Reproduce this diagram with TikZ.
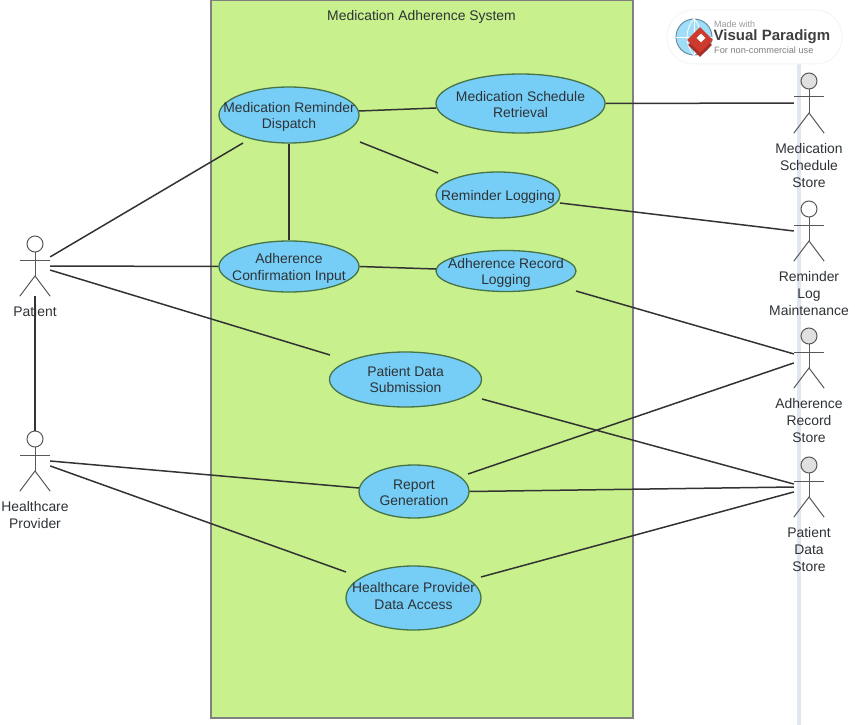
\documentclass[tikz,border=0pt]{standalone}
\usepackage{fontspec}
\setmainfont{Liberation Sans}
\usetikzlibrary{positioning, shapes.geometric}
\definecolor{sysGreen}{HTML}{C8F08C}
\definecolor{ucBlue}{HTML}{76CEF7}
\definecolor{guideBlue}{HTML}{E2E6F0}
\definecolor{logoRed}{HTML}{CF3A2E}
\definecolor{inkDark}{HTML}{2E3236}
\tikzset{
    sysBox/.style={
        draw=black!50,
        fill=sysGreen,
        line width=1.5pt
    },
    ucNode/.style={
        ellipse,
        draw=black!60!green!45!gray,
        fill=ucBlue,
        line width=1.3pt,
        inner sep=0pt
    },
    ucText/.style={
        align=center,
        text=inkDark,
        font=\fontsize{13.9}{16.3}\selectfont,
        inner sep=0pt
    },
    actorLine/.style={
        draw=black!65,
        line width=1pt
    },
    actorBox/.style={
        minimum width=30pt,
        minimum height=60pt,
        inner sep=0pt
    },
    actorText/.style={
        align=center,
        text=inkDark,
        font=\fontsize{13.9}{16.6}\selectfont,
        inner sep=0pt
    },
    assocLine/.style={
        draw=black!80,
        line width=1.5pt
    }
}

\begin{document}
\begin{tikzpicture}[x=1pt, y=-1pt]
        \useasboundingbox (0, 0) rectangle (855, 725);

        % Macro for Actor: name, x, y, head colour, text
        \def\drawActor#1#2#3#4#5{
            \node[actorBox] (#1) at (#2, #3) {};
            \draw[actorLine, fill=#4] (#2, #3-22) circle[radius=8pt];
            \draw[actorLine] (#2, #3-14) -- (#2, #3+10);
            \draw[actorLine] (#2-15, #3-6) -- (#2+15, #3-6);
            \draw[actorLine] (#1.south west) -- (#2, #3+10) -- (#1.south east);
            \node[actorText, below=10.5pt of #1] (#1Text) {#5};
        }

        % System Boundary
        \node[sysBox, minimum width=422pt, minimum height=718pt, inner sep=0pt] (sysRect) at (422, 359) {};
        \node[ucText] (sysTitle) at (421.5, 16.5) {Medication Adherence System};

        % Lifeline behind the stores
        \coordinate (guideTop) at (799, 50);
        \coordinate (guideEnd) at (799, 725);
        \draw[guideBlue, line width=3.5pt] (guideTop) -- (guideEnd);

        % Use Cases
        \node[ucNode, minimum width=140pt, minimum height=56pt, label={[ucText, yshift=-2pt]center:{Medication Reminder\\Dispatch}}] (mrd) at (289, 115) {};
        \node[ucNode, minimum width=169pt, minimum height=59pt, label={[ucText, yshift=-1pt]center:{Medication Schedule\\Retrieval}}] (msr) at (520.5, 103.5) {};
        \node[ucNode, minimum width=124pt, minimum height=46pt, label={[ucText, yshift=-1.5pt]center:{Reminder Logging}}] (rlg) at (498, 195) {};
        \node[ucNode, minimum width=140pt, minimum height=51pt, label={[ucText, yshift=-2pt]center:{Adherence\\Confirmation Input}}] (aci) at (289, 266.5) {};
        \node[ucNode, minimum width=140pt, minimum height=41pt, label={[ucText, yshift=-2pt]center:{Adherence Record\\Logging}}] (arl) at (506, 271) {};
        \node[ucNode, minimum width=152pt, minimum height=55pt, label={[ucText]center:{Patient Data\\Submission}}] (pds) at (405.5, 379.5) {};
        \node[ucNode, minimum width=110pt, minimum height=53pt, label={[ucText, yshift=-1pt]center:{Report\\Generation}}] (rpg) at (414, 491.5) {};
        \node[ucNode, minimum width=135pt, minimum height=64pt, label={[ucText, yshift=2pt]center:{Healthcare Provider\\Data Access}}] (hda) at (413.5, 598) {};

        % Actors
        \drawActor{patient}{35}{266}{white}{Patient}
        \drawActor{provider}{35}{461}{white}{Healthcare\\Provider}
        \drawActor{schedStore}{809}{103}{black!12}{Medication\\Schedule\\Store}
        \drawActor{logStore}{809}{231}{white}{Reminder\\Log\\Maintenance}
        \drawActor{recStore}{809}{358}{black!12}{Adherence\\Record\\Store}
        \drawActor{dataStore}{809}{487}{black!12}{Patient\\Data\\Store}

        % Free ends off the ellipses
        \coordinate (mrdRight) at (359, 111);
        \coordinate (msrLeft) at (436, 108);
        \coordinate (mrdLowLeft) at (243, 143);
        \coordinate (mrdLowRight) at (360, 142);
        \coordinate (rlgTop) at (438, 173);
        \coordinate (rlgRight) at (560, 203);
        \coordinate (arlLeft) at (436, 269);
        \coordinate (arlLow) at (576, 291);
        \coordinate (pdsTop) at (330, 355);
        \coordinate (pdsLow) at (482, 399);
        \coordinate (rpgLeft) at (359, 488);
        \coordinate (rpgTop) at (468, 474);
        \coordinate (hdaLeft) at (346, 572);
        \coordinate (hdaRight) at (481, 577);

        % Associations
        \draw[assocLine] (patient.31) -- (mrdLowLeft);
        \draw[assocLine] (patient.east) -- (aci.west);
        \draw[assocLine] (patient.-15) -- (pdsTop);
        \draw[assocLine] (patient.south) -- (provider.north);
        \draw[assocLine] (provider.east) -- (rpgLeft);
        \draw[assocLine] (provider.-18) -- (hdaLeft);
        \draw[assocLine] (mrdRight) -- (msrLeft);
        \draw[assocLine] (mrdLowRight) -- (rlgTop);
        \draw[assocLine] (mrd.south) -- (aci.north);
        \draw[assocLine] (aci.east) -- (arlLeft);
        \draw[assocLine] (msr.east) -- (schedStore.west);
        \draw[assocLine] (rlgRight) -- (logStore.west);
        \draw[assocLine] (arlLow) -- (recStore.165);
        \draw[assocLine] (pdsLow) -- (dataStore.169);
        \draw[assocLine] (rpgTop) -- (recStore.198);
        \draw[assocLine] (rpg.east) -- (dataStore.west);
        \draw[assocLine] (hdaRight) -- (dataStore.198);

        % Watermark
        \node[draw=black!4, fill=white, line width=1pt, rounded corners=26pt, minimum width=175pt, minimum height=54pt, inner sep=0pt] (logoPill) at (754.5, 37) {};
        \node[circle, draw=black!35!cyan!60!gray, fill=ucBlue!70, line width=1pt, minimum size=36pt, inner sep=0pt] (logoGlobe) at (694, 37) {};
        \draw[white, line width=0.8pt] (logoGlobe.west) -- (logoGlobe.east);
        \draw[white, line width=0.8pt] (logoGlobe.north) -- (logoGlobe.south);
        \draw[white, line width=0.8pt] (logoGlobe.north) to[bend right=40] (logoGlobe.south);
        \draw[white, line width=0.8pt] (logoGlobe.north) to[bend left=40] (logoGlobe.south);
        \node[diamond, fill=logoRed!80!black, minimum size=24pt, inner sep=0pt] (logoBase) at (700, 45) {};
        \node[diamond, fill=logoRed, minimum size=26pt, inner sep=0pt] (logoMark) at (700, 40) {};
        \node[diamond, fill=white, minimum size=9pt, inner sep=0pt] (logoHole) at (701, 38) {};
        \node[anchor=west, text=black!40, inner sep=0pt, font=\fontsize{9}{10}\selectfont] (logoMade) at (714, 24) {Made with};
        \node[anchor=west, text=black!75, inner sep=0pt, font=\fontsize{15}{16}\selectfont\bfseries] (logoName) at (713.5, 37) {Visual Paradigm};
        \node[anchor=west, text=black!50, inner sep=0pt, font=\fontsize{9.2}{10}\selectfont] (logoUse) at (714, 50) {For non-commercial use};

    \end{tikzpicture}
\end{document}
